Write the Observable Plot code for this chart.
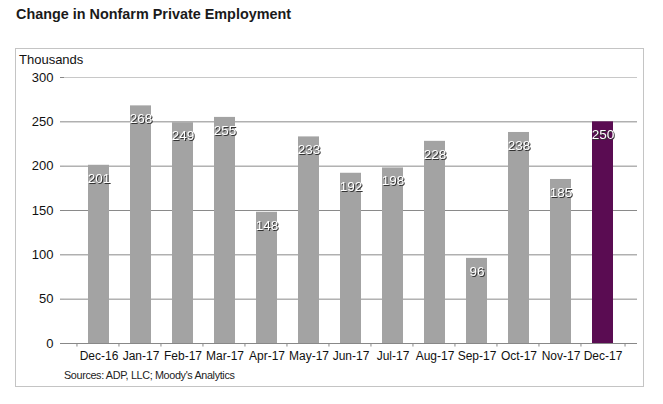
<!DOCTYPE html>
<html>
<head>
<meta charset="utf-8">
<script src="https://cdn.jsdelivr.net/npm/d3@7"></script>
<script src="https://cdn.jsdelivr.net/npm/@observablehq/plot@0.6"></script>
<style>
  html, body { margin: 0; padding: 0; background: #fff; }
  body { width: 663px; height: 404px; position: relative; overflow: hidden; font-family: "Liberation Sans", Arial, sans-serif; }
  #title { position: absolute; left: 16px; top: 6px; font-size: 14.4px; font-weight: bold; color: #1a1a1a; }
  #box { position: absolute; left: 15px; top: 48px; width: 629px; height: 339px; border: 1px solid #c4c4c4; box-sizing: border-box; }
  #units { position: absolute; left: 19px; top: 52px; font-size: 13px; color: #111; }
  #chart { position: absolute; left: 0; top: 60px; }
  #source { position: absolute; left: 64px; top: 369px; font-size: 10.8px; color: #222; letter-spacing: -0.35px; }
  #chart g[aria-label="text"] { filter: drop-shadow(1px 1px 0px #333); }
</style>
</head>
<body>
<div id="title">Change in Nonfarm Private Employment</div>
<div id="box"></div>
<div id="units">Thousands</div>
<div id="chart"></div>
<div id="source">Sources: ADP, LLC; Moody's Analytics</div>
<script>
const months = ["Dec-16","Jan-17","Feb-17","Mar-17","Apr-17","May-17","Jun-17","Jul-17","Aug-17","Sep-17","Oct-17","Nov-17","Dec-17"];
const values = [201, 268, 249, 255, 148, 233, 192, 198, 228, 96, 238, 185, 250];
const yTicks = [0, 50, 100, 150, 200, 250, 300];
const highlight = "Dec-17";

const data = months.map((m, i) => ({month: m, value: values[i]}));

const W = 663, mL = 64, mR = 26;
const step = (W - mL - mR) / months.length;

const chart = Plot.plot({
  width: W,
  height: 310,
  marginTop: 17,
  marginBottom: 27,
  marginLeft: mL,
  marginRight: mR,
  style: {fontFamily: "'Liberation Sans', Arial, sans-serif", fontSize: "13px", color: "#111", background: "transparent"},
  x: {domain: months, padding: 0.5, label: null},
  y: {domain: [0, 300], label: null},
  marks: [
    Plot.ruleY(yTicks.filter(t => t > 0 && t < 300), {stroke: "#8a8a8a", strokeWidth: 1}),
    Plot.ruleY([300], {stroke: "#c8c8c8"}),
    Plot.ruleX([0], {frameAnchor: "right", stroke: "#c8c8c8"}),
    Plot.axisY({ticks: yTicks, tickSize: 4, tickPadding: 7, tickFormat: d => d, stroke: "#888", fontSize: 13}),
    Plot.ruleX([0], {frameAnchor: "left", stroke: "#888"}),
    Plot.barY(data, {x: "month", y: "value", fill: d => d.month === highlight ? "#5a0c52" : "#a3a3a3"}),
    Plot.ruleY([0], {stroke: "#888"}),
    Plot.ruleX(months, {x: d => d, y1: 0, y2: -4, dx: -step / 2, stroke: "#888"}),
    Plot.ruleX([months[months.length - 1]], {x: d => d, y1: 0, y2: -4, dx: step / 2, stroke: "#888"}),
    Plot.axisX({tickSize: 0, tickPadding: 8, fontSize: 12}),
    Plot.text(data, {x: "month", y: "value", text: d => String(d.value), dy: 13, fill: "white", fontSize: 13.5})
  ]
});
document.getElementById("chart").appendChild(chart);
</script>
</body>
</html>
